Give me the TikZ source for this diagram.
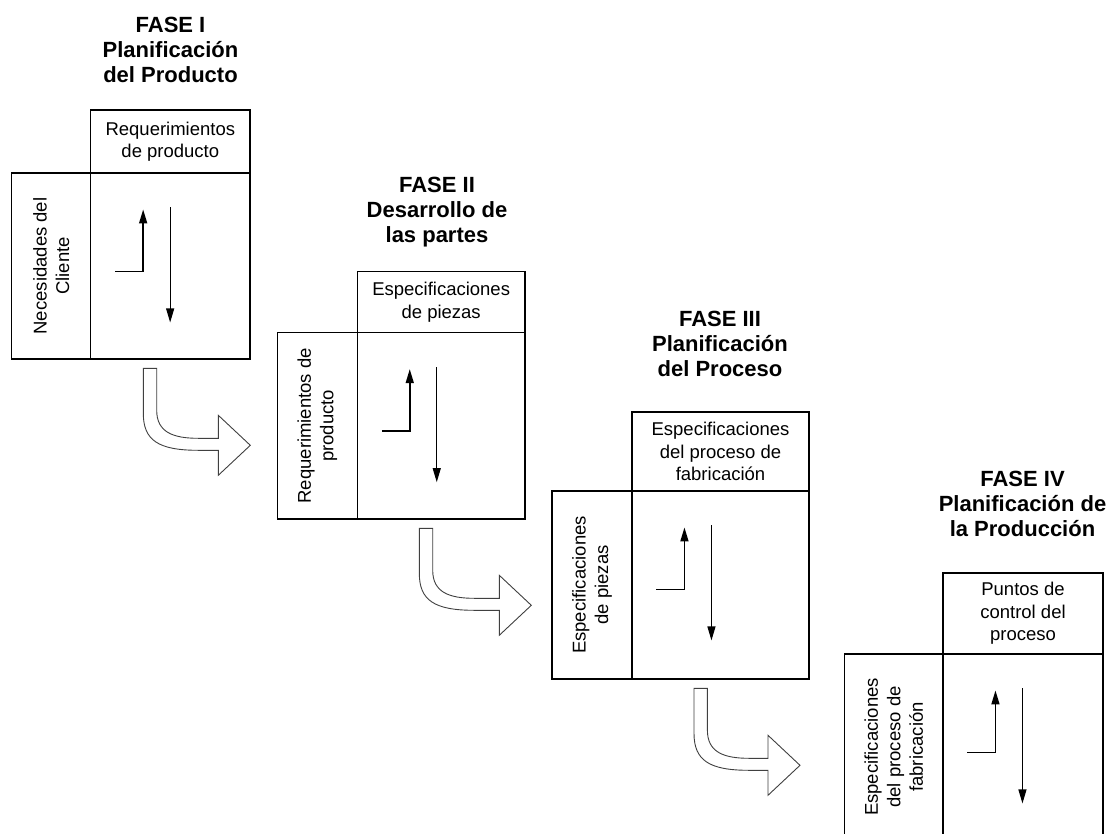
\documentclass[tikz,border=0pt]{standalone}
\usepackage{fontspec}
\setmainfont{Liberation Sans}
\usetikzlibrary{arrows.meta}
\tikzset{
  box/.style={draw, line width=1.1pt, inner sep=0pt, align=center,
    font=\fontsize{18.5}{22.5}\selectfont},
  title/.style={anchor=north, inner sep=0pt, align=center,
    font=\bfseries\fontsize{22}{25}\selectfont},
  flow/.style={line width=1.1pt, -{Triangle[length=14pt,width=8pt]}},
  feed/.style={line width=1.6pt, -{Triangle[length=14pt,width=8pt]}},
  hollow/.style={draw=black!75, fill=white, line width=0.9pt, line join=miter},
  % bent block arrow leading from one phase to the next; #1 = x of the head's back
  pics/bentarrow/.style={code={
    \path[hollow] (0,0) -- (13.4,0) -- (13.4,42)
      .. controls (13.4,64) and (30,70) .. (55,70)
      -- (#1,70) -- (#1,47) -- ({#1+32},77) -- (#1,107) -- (#1,82) -- (55,82)
      .. controls (15,82) and (0,72) .. (0,45) -- cycle;
  }}
}
\begin{document}
\begin{tikzpicture}[x=1pt,y=-1pt]
\useasboundingbox (0,0) rectangle (1113,834);
\clip (0,0) rectangle (1113,834);

% ---------- Fase I ----------
\node[title] (t1) at (170.5,17) {FASE I\\Planificación\\del Producto};
\node[box, minimum width=159.3pt, minimum height=63pt] (top1) at (170.35,141.5) {Requerimientos\\de producto};
\node[box, minimum width=159.3pt, minimum height=186pt] (main1) at (170.35,266) {};
\node[box, rotate=90, minimum width=186pt, minimum height=79pt] (left1) at (51.2,266) {Necesidades del\\Cliente};

% ---------- Fase II ----------
\node[title] (t2) at (437,176.7) {FASE II\\Desarrollo de\\las partes};
\node[box, minimum width=167.7pt, minimum height=61pt] (top2) at (441.15,302.2) {Especificaciones\\de piezas};
\node[box, minimum width=167.7pt, minimum height=186.3pt] (main2) at (441.15,425.85) {};
\node[box, rotate=90, minimum width=186.3pt, minimum height=80pt] (left2) at (317.3,425.85) {Requerimientos de\\producto};

% ---------- Fase III ----------
\node[title] (t3) at (720,311) {FASE III\\Planificación\\del Proceso};
\node[box, minimum width=177pt, minimum height=79pt] (top3) at (720.5,451.5) {Especificaciones\\del proceso de\\fabricación};
\node[box, minimum width=177pt, minimum height=188pt] (main3) at (720.5,585) {};
\node[box, rotate=90, minimum width=188pt, minimum height=80pt] (left3) at (592,585) {Especificaciones\\de piezas};

% ---------- Fase IV ----------
\node[title] (t4) at (1022.5,471) {FASE IV\\Planificación de\\la Producción};
\node[box, minimum width=160pt, minimum height=81pt] (top4) at (1023,613.5) {Puntos de\\control del\\proceso};
\node[box, minimum width=160pt, minimum height=186pt] (main4) at (1023,747) {};
\node[box, rotate=90, minimum width=186pt, minimum height=98.3pt] (left4) at (893.85,747) {Especificaciones\\del proceso de\\fabricación};

% ---------- arrows inside each matrix ----------
\foreach \m in {main1,main2,main3,main4}{
  \draw[feed] ([shift={(25,99)}]\m.north west) -| ([shift={(53,37)}]\m.north west);
  \draw[flow] ([shift={(80,35)}]\m.north west) -- ([shift={(80,150)}]\m.north west);
}

% ---------- block arrows between phases ----------
\pic at (143.3,368.3) {bentarrow=75};
\pic at (419.3,528.3) {bentarrow=80};
\pic at (694,688.3) {bentarrow=74};
\end{tikzpicture}
\end{document}
